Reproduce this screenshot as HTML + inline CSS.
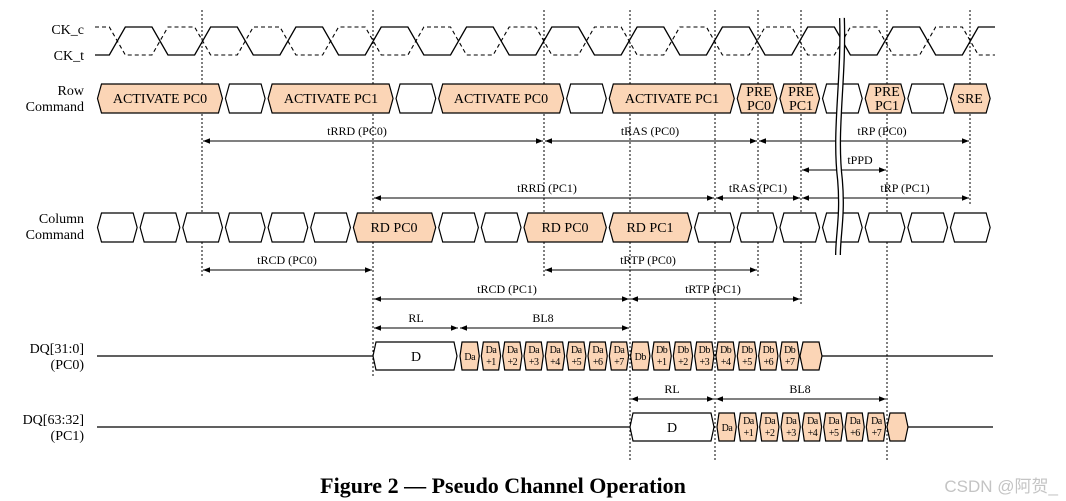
<!DOCTYPE html>
<html><head><meta charset="utf-8"><style>
html,body{margin:0;padding:0;background:#fff;}
svg{display:block;font-family:"Liberation Serif",serif;}
.c{font-size:14px;text-anchor:middle;}
.l{font-size:14px;text-anchor:end;}
.t{font-size:12px;text-anchor:middle;}
.s{font-size:10px;text-anchor:middle;letter-spacing:-0.5px;}
</style></head><body>
<svg id="d" width="1066" height="501" viewBox="0 0 1066 501" xmlns="http://www.w3.org/2000/svg">
<defs>
<marker id="a" viewBox="0 0 10 10" refX="10" refY="5" markerWidth="7" markerHeight="7" orient="auto-start-reverse"><path d="M0,1 L10,5 L0,9 z" fill="#000"/></marker>
</defs>
<g id="shapes"></g>
<g fill="#000">
<text class="l" x="84" y="34">CK_c</text>
<text class="l" x="84" y="60">CK_t</text>
<text class="l" x="84" y="95">Row</text>
<text class="l" x="84" y="111">Command</text>
<text class="l" x="84" y="223">Column</text>
<text class="l" x="84" y="239">Command</text>
<text class="l" x="84" y="353">DQ[31:0]</text>
<text class="l" x="84" y="369">(PC0)</text>
<text class="l" x="84" y="424">DQ[63:32]</text>
<text class="l" x="84" y="440">(PC1)</text>

<text class="c" x="160" y="103">ACTIVATE PC0</text>
<text class="c" x="331" y="103">ACTIVATE PC1</text>
<text class="c" x="501" y="103">ACTIVATE PC0</text>
<text class="c" x="672" y="103">ACTIVATE PC1</text>
<text class="c" x="759" y="96">PRE</text><text class="c" x="759" y="110">PC0</text>
<text class="c" x="801" y="96">PRE</text><text class="c" x="801" y="110">PC1</text>
<text class="c" x="887" y="96">PRE</text><text class="c" x="887" y="110">PC1</text>
<text class="c" x="970" y="103">SRE</text>

<text class="c" x="394" y="232">RD PC0</text>
<text class="c" x="565" y="232">RD PC0</text>
<text class="c" x="650" y="232">RD PC1</text>

<text class="t" x="357" y="135">tRRD (PC0)</text>
<text class="t" x="650" y="135">tRAS (PC0)</text>
<text class="t" x="882" y="135">tRP (PC0)</text>
<text class="t" x="860" y="164">tPPD</text>
<text class="t" x="547" y="192">tRRD (PC1)</text>
<text class="t" x="758" y="192">tRAS (PC1)</text>
<text class="t" x="905" y="192">tRP (PC1)</text>
<text class="t" x="287" y="264">tRCD (PC0)</text>
<text class="t" x="648" y="264">tRTP (PC0)</text>
<text class="t" x="507" y="293">tRCD (PC1)</text>
<text class="t" x="713" y="293">tRTP (PC1)</text>
<text class="t" x="416" y="322">RL</text>
<text class="t" x="543" y="322">BL8</text>
<text class="t" x="672" y="393">RL</text>
<text class="t" x="800" y="393">BL8</text>

<text class="c" x="416" y="361">D</text>
<text class="c" x="672" y="432">D</text>

<text class="s" x="469.7" y="360">Da</text>
<text class="s" x="491" y="353">Da</text><text class="s" x="491" y="365">+1</text>
<text class="s" x="512.3" y="353">Da</text><text class="s" x="512.3" y="365">+2</text>
<text class="s" x="533.7" y="353">Da</text><text class="s" x="533.7" y="365">+3</text>
<text class="s" x="555" y="353">Da</text><text class="s" x="555" y="365">+4</text>
<text class="s" x="576.3" y="353">Da</text><text class="s" x="576.3" y="365">+5</text>
<text class="s" x="597.7" y="353">Da</text><text class="s" x="597.7" y="365">+6</text>
<text class="s" x="619" y="353">Da</text><text class="s" x="619" y="365">+7</text>
<text class="s" x="640.3" y="360">Db</text>
<text class="s" x="661.7" y="353">Db</text><text class="s" x="661.7" y="365">+1</text>
<text class="s" x="683" y="353">Db</text><text class="s" x="683" y="365">+2</text>
<text class="s" x="704.3" y="353">Db</text><text class="s" x="704.3" y="365">+3</text>
<text class="s" x="725.7" y="353">Db</text><text class="s" x="725.7" y="365">+4</text>
<text class="s" x="747" y="353">Db</text><text class="s" x="747" y="365">+5</text>
<text class="s" x="768.3" y="353">Db</text><text class="s" x="768.3" y="365">+6</text>
<text class="s" x="789.7" y="353">Db</text><text class="s" x="789.7" y="365">+7</text>

<text class="s" x="727" y="431">Da</text>
<text class="s" x="748.4" y="424">Da</text><text class="s" x="748.4" y="436">+1</text>
<text class="s" x="769.7" y="424">Da</text><text class="s" x="769.7" y="436">+2</text>
<text class="s" x="791" y="424">Da</text><text class="s" x="791" y="436">+3</text>
<text class="s" x="812.4" y="424">Da</text><text class="s" x="812.4" y="436">+4</text>
<text class="s" x="833.7" y="424">Da</text><text class="s" x="833.7" y="436">+5</text>
<text class="s" x="855" y="424">Da</text><text class="s" x="855" y="436">+6</text>
<text class="s" x="876.4" y="424">Da</text><text class="s" x="876.4" y="436">+7</text>

<text x="503" y="493" style="font-size:22px;font-weight:bold;text-anchor:middle">Figure 2 — Pseudo Channel Operation</text>
</g>
<text x="1058" y="492" style="font-family:'Liberation Sans','Noto Sans CJK SC',sans-serif;font-size:17px;fill:#c4c4c4;text-anchor:end">CSDN @阿贺_</text>
</svg>
<script>
(function(){
var NS="http://www.w3.org/2000/svg",g=document.getElementById("shapes"),W=42.65,X0=96;
function X(i){return X0+W*i;}
function el(n,a){var e=document.createElementNS(NS,n);for(var k in a)e.setAttribute(k,a[k]);g.appendChild(e);return e;}
function hex(a,b,t,bt,fill,ind){ind=ind||4;var m=(t+bt)/2;
 el("polygon",{points:[a,m,a+ind,t,b-ind,t,b,m,b-ind,bt,a+ind,bt].join(" "),fill:fill,stroke:"#000","stroke-width":1.2});}
var P="#fbd5b6";
var lo=55,hi=27,h=8,t="M95,"+lo,c="M95,"+hi;
for(var i=0;i<21;i++){var cx=X(i+0.5);var rising=(i%2==0);
 t+=" L"+(cx-h)+","+(rising?lo:hi)+" L"+(cx+h)+","+(rising?hi:lo);
 c+=" L"+(cx-h)+","+(rising?hi:lo)+" L"+(cx+h)+","+(rising?lo:hi);}
t+=" L995,"+hi; c+=" L995,"+lo;
el("path",{d:c,fill:"none",stroke:"#000","stroke-width":1.1,"stroke-dasharray":"4,3"});
el("path",{d:t,fill:"none",stroke:"#000","stroke-width":1.3});
[[202,10,277],[373,10,378],[544,10,277],[630,10,460],[715,10,460],[758,10,277],[801,10,305],[887,10,460],[970,10,205]].forEach(function(v){
 el("line",{x1:v[0],y1:v[1],x2:v[0],y2:v[2],stroke:"#000","stroke-width":1,"stroke-dasharray":"2,2"});});
var row=[[0,3,P],[3,1],[4,3,P],[7,1],[8,3,P],[11,1],[12,3,P],[15,1,P],[16,1,P],[17,1],[18,1,P],[19,1],[20,1,P]];
row.forEach(function(r){hex(X(r[0])+1.5,X(r[0]+r[1])-1.5,84,113,r[2]||"#fff");});
var col=[[0,1],[1,1],[2,1],[3,1],[4,1],[5,1],[6,2,P],[8,1],[9,1],[10,2,P],[12,2,P],[14,1],[15,1],[16,1],[17,1],[18,1],[19,1],[20,1]];
col.forEach(function(r){hex(X(r[0])+1.5,X(r[0]+r[1])-1.5,213,242,r[2]||"#fff");});
el("line",{x1:97,y1:356,x2:373,y2:356,stroke:"#000","stroke-width":1.3});
hex(373,457,342,370,"#fff",3);
for(var k=0;k<16;k++){var a=459+k*21.33;hex(a+1,a+20.3,342,370,P,2);}
hex(800,822,342,370,P,3);
el("line",{x1:822,y1:356,x2:993,y2:356,stroke:"#000","stroke-width":1.3});
el("line",{x1:97,y1:427,x2:630,y2:427,stroke:"#000","stroke-width":1.3});
hex(630,714,413,441,"#fff",3);
for(var k=0;k<8;k++){var a=716+k*21.33;hex(a+1,a+20.3,413,441,P,2);}
hex(887,908,413,441,P,3);
el("line",{x1:908,y1:427,x2:993,y2:427,stroke:"#000","stroke-width":1.3});
[[202,544,141],[544,758,141],[758,970,141],[801,887,170],[373,715,198],[715,801,198],[801,970,198],
 [202,373,270],[544,758,270],[373,630,299],[630,801,299],[373,459,328],[459,630,328],[630,715,399],[715,887,399]].forEach(function(r){
 el("line",{x1:r[0]+1,y1:r[2],x2:r[1]-1,y2:r[2],stroke:"#000","stroke-width":1,"marker-start":"url(#a)","marker-end":"url(#a)"});});
var bd="M842,18 C844,80 834,130 840,180 C843,215 838,235 838,255";
el("path",{d:bd,fill:"none",stroke:"#000","stroke-width":6});
el("path",{d:bd,fill:"none",stroke:"#fff","stroke-width":3.4});
})();
</script>
</body></html>
